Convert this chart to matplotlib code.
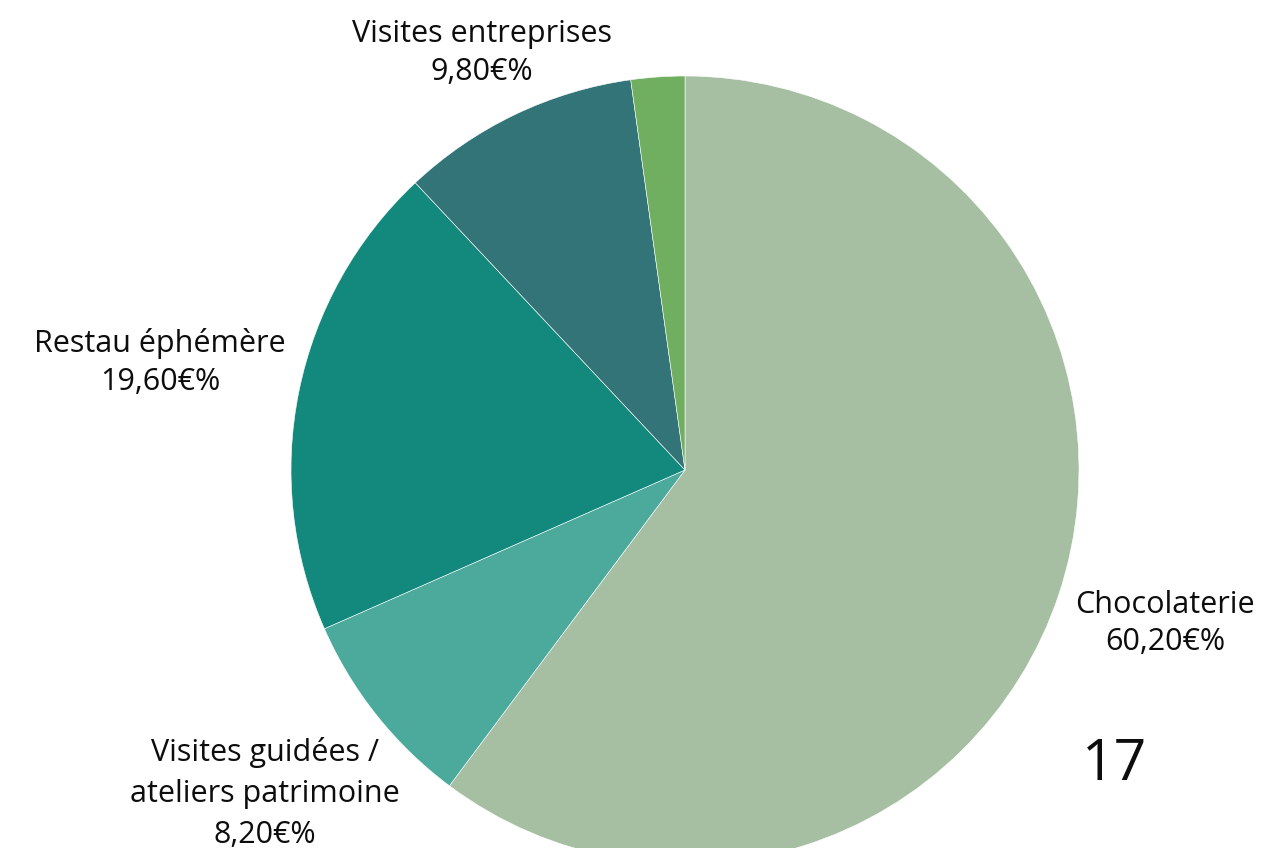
import matplotlib
matplotlib.use("Agg")
import matplotlib.pyplot as plt

categories = ["Chocolaterie", "Visites guidées /\nateliers patrimoine", "Restau éphémère", "Visites entreprises", ""]
values = [60.2, 8.2, 19.6, 9.8, 2.2]
value_labels = ["60,20€%", "8,20€%", "19,60€%", "9,80€%", ""]
colors = ["#A6BFA2", "#4BAA9C", "#13897D", "#337479", "#70AE60"]
corner_text = "17"

W, H = 1280, 848
fig = plt.figure(figsize=(W / 100, H / 100), dpi=100)
ax = fig.add_axes([0, 0, 1, 1])

cx, cy, r = 685, H - 470, 394
ax.pie(values, colors=colors, startangle=90, counterclock=False,
       center=(cx, cy), radius=r, frame=True,
       wedgeprops=dict(edgecolor="white", linewidth=0.4))
ax.set_xlim(0, W)
ax.set_ylim(0, H)
ax.set_aspect("equal")
ax.axis("off")

font = "Open Sans"
# (x centre, first baseline from top, line step) in pixels
label_layout = [(1165, 613, 37), (265, 761, 41), (160, 352, 38), (482, 42, 38)]
for (x, y0, step), cat, val in zip(label_layout, categories, value_labels):
    lines = cat.split("\n") + [val]
    for i, line in enumerate(lines):
        ax.text(x, H - (y0 + i * step), line, ha="center", va="baseline",
                fontsize=22, family=font, color="#0d0d0d")

ax.text(1115, H - 780, corner_text, ha="center", va="baseline", fontsize=41,
        family=font, color="#0d0d0d")

fig.savefig("out.png", dpi=100)
